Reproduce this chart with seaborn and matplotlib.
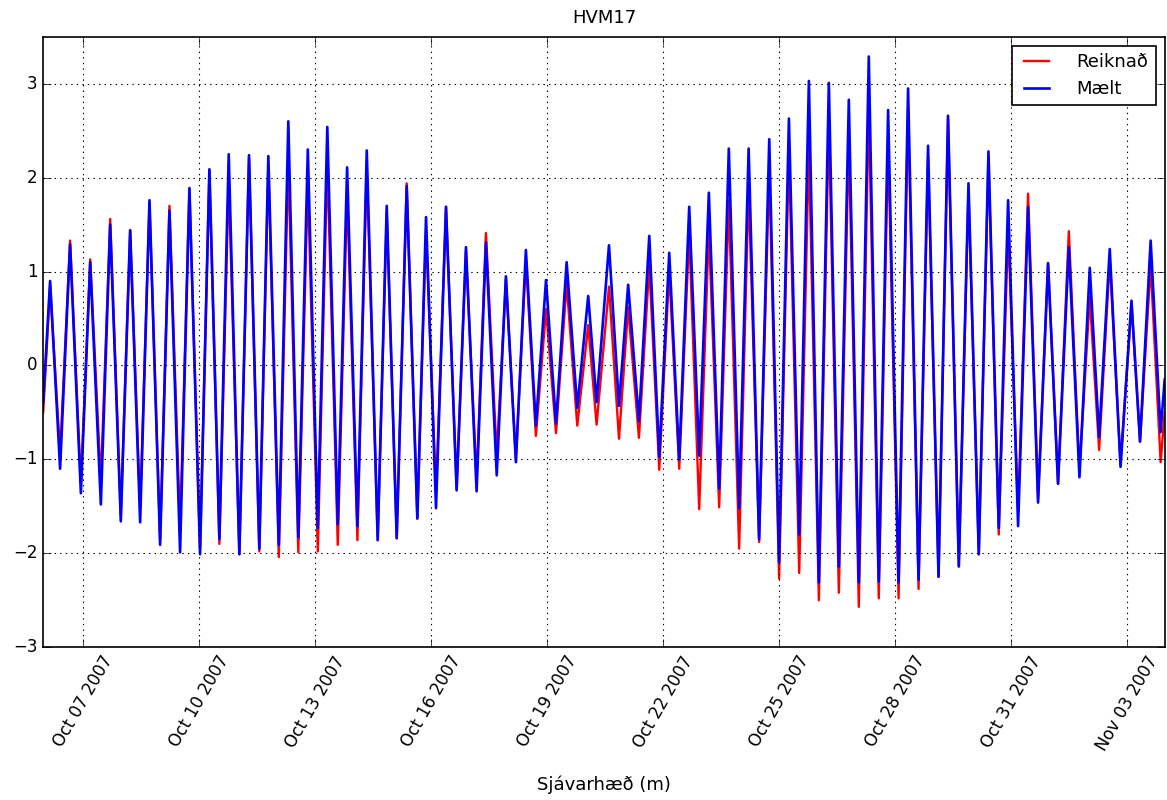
import matplotlib
matplotlib.use("Agg")
import matplotlib.pyplot as plt
import matplotlib.dates as mdates
import numpy as np
import pandas as pd
import seaborn as sns

# Hours since 2007-10-06 00:00 of each tidal extreme
hours = [-0.8, 3.5, 9.7, 15.9, 22.6, 28.4, 35.0, 40.8, 47.4, 53.2, 59.4, 65.2, 71.8, 77.6, 84.2, 90.0, 96.6, 102.4, 108.6, 114.4, 121.0,
         127.0, 133.4, 139.0, 145.5, 151.4, 157.6, 163.5, 169.7, 175.6, 182.1, 187.9, 194.3, 200.1, 206.9, 212.5, 218.7, 224.9, 231.5, 236.9,
         243.1, 249.3, 255.9, 261.7, 268.3, 274.1, 280.8, 286.5, 292.7, 298.9, 305.1, 311.4, 317.6, 324.2, 330.8, 337.6, 342.8, 350.5, 356.7,
         362.4, 369.1, 375.5, 381.7, 387.9, 394.1, 400.3, 406.5, 412.5, 418.9, 424.9, 431.3, 437.2, 443.7, 450.0, 456.1, 462.2, 468.6, 474.6,
         480.8, 487.0, 493.2, 499.4, 505.6, 511.8, 518.0, 523.8, 530.3, 536.2, 542.7, 548.6, 555.1, 561.0, 567.7, 573.7, 580.1, 586.1, 592.5,
         598.3, 604.5, 610.7, 616.9, 623.1, 629.3, 636.0, 642.6, 649.0, 654.8, 661.4, 668.1, 674.9, 680.2, 686.8, 693.0, 695.5]

# Mælt (measured)
maelt = [-0.40, 0.90, -1.10, 1.29, -1.36, 1.10, -1.48, 1.50, -1.66, 1.44, -1.67, 1.76, -1.91, 1.65, -1.99, 1.89, -2.01, 2.09, -1.85, 2.25, -2.01,
         2.24, -1.95, 2.23, -1.91, 2.60, -1.83, 2.30, -1.73, 2.54, -1.69, 2.11, -1.71, 2.29, -1.86, 1.70, -1.84, 1.91, -1.63, 1.58,
         -1.52, 1.69, -1.33, 1.26, -1.34, 1.31, -1.17, 0.95, -1.03, 1.23, -0.64, 0.91, -0.62, 1.10, -0.45, 0.74, -0.39, 1.28, -0.43,
         0.86, -0.59, 1.38, -0.97, 1.20, -1.00, 1.69, -0.96, 1.84, -1.31, 2.31, -1.52, 2.31, -1.85, 2.41, -2.09, 2.63, -1.80, 3.03,
         -2.31, 3.01, -2.14, 2.83, -2.31, 3.29, -2.30, 2.72, -2.31, 2.95, -2.28, 2.34, -2.25, 2.66, -2.14, 1.94, -2.01, 2.28, -1.73,
         1.76, -1.71, 1.69, -1.46, 1.09, -1.26, 1.26, -1.19, 1.04, -0.76, 1.24, -1.08, 0.69, -0.81, 1.33, -0.71, -0.15]

# Reiknað (computed)
reiknad = [-0.50, 0.85, -0.94, 1.33, -1.26, 1.13, -1.24, 1.56, -1.60, 1.44, -1.52, 1.73, -1.86, 1.70, -1.73, 1.88, -1.95, 2.08, -1.90, 1.98, -2.01,
           2.21, -1.98, 2.14, -2.04, 2.18, -1.99, 1.96, -1.98, 2.18, -1.91, 1.84, -1.86, 2.12, -1.86, 1.63, -1.84, 1.94, -1.63, 1.43,
           -1.35, 1.69, -1.31, 1.22, -1.22, 1.41, -0.96, 0.92, -0.99, 1.12, -0.75, 0.60, -0.72, 0.87, -0.64, 0.43, -0.63, 0.84, -0.78,
           0.62, -0.77, 1.07, -1.11, 1.01, -1.10, 1.41, -1.53, 1.45, -1.51, 1.76, -1.95, 1.91, -1.88, 2.10, -2.27, 2.31, -2.21, 2.33,
           -2.50, 2.61, -2.42, 2.43, -2.57, 2.76, -2.48, 2.38, -2.48, 2.75, -2.38, 2.21, -2.25, 2.63, -2.14, 1.86, -2.01, 2.21, -1.80,
           1.46, -1.55, 1.83, -1.41, 1.09, -1.26, 1.43, -1.11, 0.73, -0.90, 1.13, -1.05, 0.66, -0.81, 1.07, -1.03, -0.50]

tick_dates = ["2007-10-07", "2007-10-10", "2007-10-13", "2007-10-16", "2007-10-19",
              "2007-10-22", "2007-10-25", "2007-10-28", "2007-10-31", "2007-11-03"]
yticks = [-3, -2, -1, 0, 1, 2, 3]

start = pd.Timestamp("2007-10-06 00:00")
times = start + pd.to_timedelta(hours, unit="h")
df = pd.DataFrame({"t": times, "Reiknað": reiknad, "Mælt": maelt})

plt.style.use("classic")
plt.rcParams["font.family"] = ["DejaVu Sans"]

fig = plt.figure(figsize=(11.67, 8.0), dpi=100, facecolor="white")
ax = fig.add_axes([0.037, 0.191, 0.961, 0.763])
ax.set_facecolor("white")

sns.lineplot(data=df, x="t", y="Reiknað", ax=ax, color="red", lw=1.7, label="Reiknað",
             solid_joinstyle="round")
sns.lineplot(data=df, x="t", y="Mælt", ax=ax, color="blue", lw=1.9, label="Mælt",
             solid_joinstyle="round")

ax.set_xlim(times[0], times[-1])
ax.set_ylim(-3, 3.5)
ax.set_yticks(yticks)
ax.set_yticklabels(["\u2212" + str(abs(v)) if v < 0 else str(v) for v in yticks], fontsize=12)
ax.set_xticks(pd.to_datetime(tick_dates))
ax.xaxis.set_major_formatter(mdates.DateFormatter("%b %d %Y"))
plt.setp(ax.get_xticklabels(), rotation=60, fontsize=12, ha="center")
ax.grid(True, color="black", linestyle=":", linewidth=0.8)
ax.tick_params(direction="in", length=6, top=True, right=True)
for s in ax.spines.values():
    s.set_linewidth(1.2)
    s.set_color("black")

ax.set_title("HVM17", fontsize=13, pad=10)
ax.set_xlabel("Sjávarhæð (m)", fontsize=13, labelpad=16)
ax.set_ylabel("")

leg = ax.legend(loc="upper right", fontsize=13, frameon=True, fancybox=False,
                borderpad=0.4, handlelength=2.0, handletextpad=1.2)
leg.get_frame().set_edgecolor("black")
leg.get_frame().set_linewidth(1.2)

fig.savefig("out.png", dpi=100, facecolor="white")
